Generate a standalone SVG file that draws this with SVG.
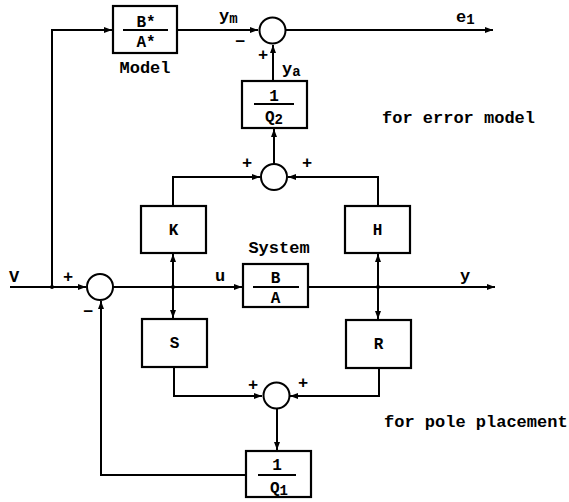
<svg xmlns="http://www.w3.org/2000/svg" width="569" height="502" viewBox="0 0 569 502">
<style>
.ln{fill:none;stroke:#000;stroke-width:2}
.bx{fill:#fff;stroke:#000;stroke-width:2.2}
.sm{fill:#fff;stroke:#000;stroke-width:2}
text{font-family:"Liberation Mono","DejaVu Sans Mono",monospace;font-weight:bold;fill:#000}
.lbl{font-size:17px}
.bl{font-size:16px;text-anchor:middle}
.sg{font-size:17px}
.sub{font-size:14px}
</style>
<defs>
<marker id="ar" viewBox="0 0 8 6" refX="8" refY="3" markerWidth="8" markerHeight="6" markerUnits="userSpaceOnUse" orient="auto">
<path d="M0,0 L8,3 L0,6 z" fill="#000"/>
</marker>
</defs>
<rect width="569" height="502" fill="#fff"/>
<g id="connectors">
<path class="ln" d="M10,287 H86" marker-end="url(#ar)"/>
<path class="ln" d="M52,287 V30 H112" marker-end="url(#ar)"/>
<path class="ln" d="M177,30 H258" marker-end="url(#ar)"/>
<path class="ln" d="M286,30 H493" marker-end="url(#ar)"/>
<path class="ln" d="M273,81 V45" marker-end="url(#ar)"/>
<path class="ln" d="M274,164 V129" marker-end="url(#ar)"/>
<path class="ln" d="M173,206 V177 H260" marker-end="url(#ar)"/>
<path class="ln" d="M378,206 V177 H288" marker-end="url(#ar)"/>
<path class="ln" d="M113,287 H242" marker-end="url(#ar)"/>
<path class="ln" d="M308,287 H495" marker-end="url(#ar)"/>
<path class="ln" d="M173,287 V254" marker-end="url(#ar)"/>
<path class="ln" d="M173,287 V318" marker-end="url(#ar)"/>
<path class="ln" d="M378,287 V254" marker-end="url(#ar)"/>
<path class="ln" d="M378,287 V319" marker-end="url(#ar)"/>
<path class="ln" d="M174,367 V396 H262" marker-end="url(#ar)"/>
<path class="ln" d="M379,368 V396 H290" marker-end="url(#ar)"/>
<path class="ln" d="M277,409 V450" marker-end="url(#ar)"/>
<path class="ln" d="M246,475 H101 V301" marker-end="url(#ar)"/>
<circle cx="52" cy="287" r="2" fill="#000"/>
<circle cx="173" cy="287" r="2" fill="#000"/>
<circle cx="378" cy="287" r="2" fill="#000"/>
</g>
<g id="model">
<rect class="bx" x="113" y="6" width="64" height="47"/>
<line class="ln" x1="123" y1="30" x2="168" y2="30"/>
<text class="bl" x="146" y="27">B*</text>
<text class="bl" x="146" y="47">A*</text>
<text class="lbl" x="145" y="73" text-anchor="middle" font-size="16">Model</text>
</g>
<g id="sum-top">
<circle class="sm" cx="272.5" cy="30.5" r="13"/>
<text class="sg" x="235" y="47">−</text>
<text class="sg" x="258" y="60">+</text>
</g>
<g id="q2">
<rect class="bx" x="242" y="81" width="65" height="47"/>
<line class="ln" x1="254" y1="104" x2="294" y2="104"/>
<text class="bl" x="274" y="101">1</text>
<text class="bl" x="274" y="122">Q<tspan class="sub" dy="2">2</tspan></text>
</g>
<g id="sum-mid">
<circle class="sm" cx="274" cy="177" r="13"/>
<text class="sg" x="242" y="168">+</text>
<text class="sg" x="302" y="168">+</text>
</g>
<g id="K">
<rect class="bx" x="141" y="206" width="65" height="47"/>
<text class="bl" x="173.5" y="235">K</text>
</g>
<g id="H">
<rect class="bx" x="345" y="206" width="65" height="47"/>
<text class="bl" x="377.5" y="235">H</text>
</g>
<g id="sum-left">
<circle class="sm" cx="100" cy="287" r="13"/>
<text class="sg" x="63" y="282">+</text>
<text class="sg" x="83" y="317">−</text>
</g>
<g id="system">
<rect class="bx" x="243" y="264" width="65" height="43"/>
<line class="ln" x1="253" y1="287" x2="299" y2="287"/>
<text class="bl" x="275.5" y="283">B</text>
<text class="bl" x="275.5" y="303">A</text>
<text class="lbl" x="279" y="253" text-anchor="middle">System</text>
</g>
<g id="S">
<rect class="bx" x="142" y="319" width="65" height="48"/>
<text class="bl" x="174.5" y="348">S</text>
</g>
<g id="R">
<rect class="bx" x="346" y="320" width="65" height="48"/>
<text class="bl" x="378.5" y="349">R</text>
</g>
<g id="sum-bottom">
<circle class="sm" cx="276.5" cy="395.5" r="13"/>
<text class="sg" x="248" y="390">+</text>
<text class="sg" x="298" y="388">+</text>
</g>
<g id="q1">
<rect class="bx" x="246" y="451" width="65" height="46"/>
<line class="ln" x1="258" y1="475" x2="296" y2="475"/>
<text class="bl" x="277" y="470">1</text>
<text class="bl" x="279" y="493">Q<tspan class="sub" dy="2">1</tspan></text>
</g>
<g id="labels">
<text class="lbl" x="9" y="282">V</text>
<text class="lbl" x="215" y="281">u</text>
<text class="lbl" x="460" y="281">y</text>
<text class="lbl" x="219" y="21">y<tspan class="sub" dy="2">m</tspan></text>
<text class="lbl" x="282" y="74">y<tspan class="sub" dy="2">a</tspan></text>
<text class="lbl" x="456" y="22">e<tspan class="sub" dy="2">1</tspan></text>
<text class="lbl" x="382" y="123">for error model</text>
<text class="lbl" x="384" y="427">for pole placement</text>
</g>
</svg>
